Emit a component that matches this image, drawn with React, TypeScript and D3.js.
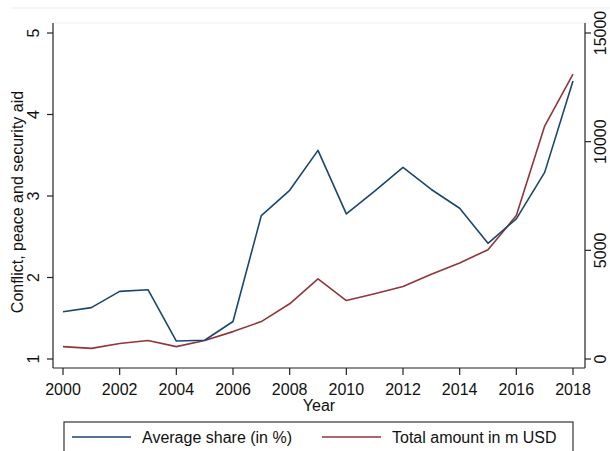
import React, { useEffect, useRef } from 'react';
import * as d3 from 'd3';

const years = [2000, 2001, 2002, 2003, 2004, 2005, 2006, 2007, 2008, 2009, 2010, 2011, 2012, 2013, 2014, 2015, 2016, 2017, 2018];
const avgShare = [1.58, 1.63, 1.83, 1.85, 1.22, 1.23, 1.46, 2.76, 3.07, 3.56, 2.78, 3.06, 3.35, 3.08, 2.85, 2.42, 2.72, 3.29, 4.41];
const totalAmount = [570, 490, 710, 850, 570, 850, 1260, 1720, 2540, 3690, 2690, 3000, 3340, 3900, 4420, 5030, 6600, 10720, 13110];
const xTicks = [2000, 2002, 2004, 2006, 2008, 2010, 2012, 2014, 2016, 2018];
const leftTicks = [1, 2, 3, 4, 5];
const rightTicks = [0, 5000, 10000, 15000];

const BLUE = '#1a476f';
const RED = '#90353b';
const FONT = '"Liberation Sans", Arial, sans-serif';

export default function App() {
  const svgRef = useRef<SVGSVGElement>(null);

  useEffect(() => {
    if (!svgRef.current) return;
    const svg = d3.select(svgRef.current);
    svg.selectAll('*').remove();

    const frame = { left: 53, right: 585, top: 23, bottom: 368 };

    const x = d3.scaleLinear().domain([2000, 2018]).range([63, 573]);
    const yL = d3.scaleLinear().domain([1, 5]).range([359, 33]);
    const yR = d3.scaleLinear().domain([0, 15000]).range([359, 33]);

    // faint top lines
    svg.append('line')
      .attr('x1', 11).attr('x2', 610).attr('y1', 8).attr('y2', 8)
      .attr('stroke', '#e6efef').attr('stroke-width', 1);
    svg.append('line')
      .attr('x1', frame.left).attr('x2', frame.right).attr('y1', frame.top).attr('y2', frame.top)
      .attr('stroke', '#eef3f3').attr('stroke-width', 1);

    // Axis frame
    const axisColor = '#222';
    svg.append('line')
      .attr('x1', frame.left).attr('x2', frame.left).attr('y1', frame.top).attr('y2', frame.bottom)
      .attr('stroke', axisColor).attr('stroke-width', 1.2);
    svg.append('line')
      .attr('x1', frame.right).attr('x2', frame.right).attr('y1', frame.top).attr('y2', frame.bottom)
      .attr('stroke', axisColor).attr('stroke-width', 1.2);
    svg.append('line')
      .attr('x1', frame.left).attr('x2', frame.right).attr('y1', frame.bottom).attr('y2', frame.bottom)
      .attr('stroke', axisColor).attr('stroke-width', 1.2);

    // X ticks
    const xt = svg.append('g').selectAll('g').data(xTicks).enter().append('g');
    xt.append('line')
      .attr('x1', d => x(d)).attr('x2', d => x(d))
      .attr('y1', frame.bottom).attr('y2', frame.bottom + 7)
      .attr('stroke', axisColor).attr('stroke-width', 1.2);
    xt.append('text')
      .attr('x', d => x(d)).attr('y', 395)
      .attr('text-anchor', 'middle')
      .attr('font-family', FONT).attr('font-size', 16).attr('fill', '#111')
      .text(d => d);

    svg.append('text')
      .attr('x', 319).attr('y', 411)
      .attr('text-anchor', 'middle')
      .attr('font-family', FONT).attr('font-size', 16).attr('fill', '#111')
      .text('Year');

    // Left ticks
    const lt = svg.append('g').selectAll('g').data(leftTicks).enter().append('g');
    lt.append('line')
      .attr('x1', frame.left - 6).attr('x2', frame.left)
      .attr('y1', d => yL(d)).attr('y2', d => yL(d))
      .attr('stroke', axisColor).attr('stroke-width', 1.2);
    lt.append('text')
      .attr('transform', d => `translate(${39},${yL(d)}) rotate(-90)`)
      .attr('text-anchor', 'middle')
      .attr('font-family', FONT).attr('font-size', 16).attr('fill', '#111')
      .text(d => d);

    svg.append('text')
      .attr('transform', `translate(${23},${202}) rotate(-90)`)
      .attr('text-anchor', 'middle')
      .attr('font-family', FONT).attr('font-size', 16).attr('fill', '#111')
      .text('Conflict, peace and security aid');

    // Right ticks
    const rt = svg.append('g').selectAll('g').data(rightTicks).enter().append('g');
    rt.append('line')
      .attr('x1', frame.right).attr('x2', frame.right + 6)
      .attr('y1', d => yR(d)).attr('y2', d => yR(d))
      .attr('stroke', axisColor).attr('stroke-width', 1.2);
    rt.append('text')
      .attr('transform', d => `translate(${606},${yR(d)}) rotate(-90)`)
      .attr('text-anchor', 'middle')
      .attr('font-family', FONT).attr('font-size', 16).attr('fill', '#111')
      .text(d => d);

    // Lines
    const lineL = d3.line<number>().x((_, i) => x(years[i])).y(d => yL(d));
    const lineR = d3.line<number>().x((_, i) => x(years[i])).y(d => yR(d));

    svg.append('path')
      .attr('d', lineR(totalAmount))
      .attr('fill', 'none').attr('stroke', RED).attr('stroke-width', 1.6)
      .attr('stroke-linejoin', 'round');
    svg.append('path')
      .attr('d', lineL(avgShare))
      .attr('fill', 'none').attr('stroke', BLUE).attr('stroke-width', 1.6)
      .attr('stroke-linejoin', 'round');

    // Legend
    svg.append('rect')
      .attr('x', 64).attr('y', 422).attr('width', 509).attr('height', 60)
      .attr('fill', '#fff').attr('stroke', '#333').attr('stroke-width', 1.2);
    const legend = [
      { label: 'Average share (in %)', color: BLUE, x0: 72 },
      { label: 'Total amount in m USD', color: RED, x0: 322 },
    ];
    const lg = svg.append('g').selectAll('g').data(legend).enter().append('g');
    lg.append('line')
      .attr('x1', d => d.x0).attr('x2', d => d.x0 + 59)
      .attr('y1', 437).attr('y2', 437)
      .attr('stroke', d => d.color).attr('stroke-width', 1.6);
    lg.append('text')
      .attr('x', d => d.x0 + 70).attr('y', 443)
      .attr('font-family', FONT).attr('font-size', 16).attr('fill', '#111')
      .text(d => d.label);
  }, []);

  return (
    <svg
      ref={svgRef}
      width={610}
      height={451}
      style={{ position: 'absolute', left: 0, top: 0, background: '#fff' }}
    />
  );
}
